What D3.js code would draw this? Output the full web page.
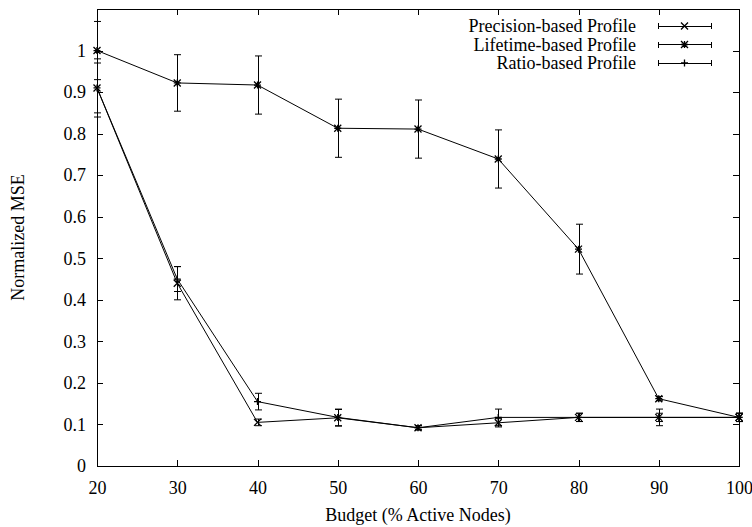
<!DOCTYPE html>
<html>
<head>
<meta charset="utf-8">
<script src="https://cdn.jsdelivr.net/npm/d3@7"></script>
<style>
  body { margin: 0; background: #fff; }
</style>
</head>
<body>
<div class="chart"></div>
<script>
// data
const budgets = [20, 30, 40, 50, 60, 70, 80, 90, 100];
const precision = [0.91, 0.44, 0.105, 0.116, 0.092, 0.104, 0.117, 0.117, 0.117];
const precisionErr = [0.07, 0.04, 0.008, 0.02, 0.005, 0.01, 0.01, 0.02, 0.01];
const lifetime = [1.0, 0.922, 0.917, 0.813, 0.811, 0.739, 0.522, 0.162, 0.117];
const lifetimeErr = [0.07, 0.068, 0.07, 0.07, 0.07, 0.07, 0.06, 0.005, 0.01];
const ratio = [0.91, 0.45, 0.155, 0.117, 0.092, 0.117, 0.117, 0.117, 0.117];
const ratioErr = [0.06, 0.03, 0.02, 0.02, 0.005, 0.02, 0.01, 0.01, 0.01];
const seriesNames = ['Precision-based Profile', 'Lifetime-based Profile', 'Ratio-based Profile'];
const markers = ['cross', 'star', 'plus'];
const yTicks = [0, 0.1, 0.2, 0.3, 0.4, 0.5, 0.6, 0.7, 0.8, 0.9, 1];

const FONT = '"Liberation Serif", "Times New Roman", serif';
const FONT_SIZE = '18px';

// graph dimensions
const width = 752, height = 527;
const margin = { top: 9, right: 13, bottom: 61, left: 97 };
const graphWidth = width - margin.left - margin.right;
const graphHeight = height - margin.top - margin.bottom;

const svg = d3.select('.chart')
  .append('svg')
  .attr('width', width)
  .attr('height', height);

const graph = svg.append('g')
  .attr('transform', `translate(${margin.left}, ${margin.top})`);

// scales
const x = d3.scaleLinear().domain([20, 100]).range([0, graphWidth]);
const y = d3.scaleLinear().domain([0, 1.1]).range([graphHeight, 0]);

// axes (gnuplot style: inward ticks, mirrored on top and right)
const tickLen = 6;
const xAxis = d3.axisBottom(x).tickValues(budgets).tickSize(-tickLen).tickPadding(15).tickFormat(d3.format('d'));
const xAxisTop = d3.axisTop(x).tickValues(budgets).tickSize(-tickLen).tickFormat('');
const yAxis = d3.axisLeft(y).tickValues(yTicks).tickSize(-tickLen).tickPadding(11).tickFormat(d => d === 0 || d === 1 ? d3.format('d')(d) : d3.format('.1f')(d));
const yAxisRight = d3.axisRight(y).tickValues(yTicks).tickSize(-tickLen).tickFormat('');

graph.append('g').attr('transform', `translate(0, ${graphHeight})`).call(xAxis);
graph.append('g').call(xAxisTop);
graph.append('g').call(yAxis);
graph.append('g').attr('transform', `translate(${graphWidth}, 0)`).call(yAxisRight);

graph.selectAll('.domain').remove();
graph.selectAll('.tick line').attr('stroke', '#000').attr('shape-rendering', 'crispEdges');

// border box
graph.append('rect')
  .attr('width', graphWidth)
  .attr('height', graphHeight)
  .attr('fill', 'none')
  .attr('stroke', '#000')
  .attr('shape-rendering', 'crispEdges');

// axis titles
svg.append('text')
  .attr('x', margin.left + graphWidth / 2)
  .attr('y', 521)
  .attr('text-anchor', 'middle')
  .text('Budget (% Active Nodes)');

svg.append('text')
  .attr('transform', `translate(24, ${margin.top + graphHeight / 2}) rotate(-90)`)
  .attr('text-anchor', 'middle')
  .text('Normalized MSE');

// point marker drawing
const ms = 3.5;
const markerPath = (type, cx, cy) => {
  const p = d3.path();
  if (type === 'cross' || type === 'star') {
    p.moveTo(cx - ms, cy - ms); p.lineTo(cx + ms, cy + ms);
    p.moveTo(cx - ms, cy + ms); p.lineTo(cx + ms, cy - ms);
  }
  if (type === 'plus' || type === 'star') {
    p.moveTo(cx - ms, cy); p.lineTo(cx + ms, cy);
    p.moveTo(cx, cy - ms); p.lineTo(cx, cy + ms);
  }
  return p.toString();
};

const line = d3.line()
  .x(d => x(d.b))
  .y(d => y(d.v));

const allSeries = [
  { vals: precision, errs: precisionErr },
  { vals: lifetime, errs: lifetimeErr },
  { vals: ratio, errs: ratioErr }
];

const capW = 3.5;
allSeries.forEach((s, i) => {
  const data = budgets.map((b, j) => ({ b, v: s.vals[j], e: s.errs[j] }));
  const g = graph.append('g').attr('class', 'series-' + i);

  // error bars
  g.selectAll('path.err')
    .data(data)
    .enter()
    .append('path')
    .attr('class', 'err')
    .attr('fill', 'none')
    .attr('stroke', '#000')
    .attr('stroke-width', 1)
    .attr('d', d => {
      const cx = Math.round(x(d.b)) + 0.5;
      const y0 = y(d.v - d.e), y1 = y(d.v + d.e);
      return `M${cx},${y0}L${cx},${y1}M${cx - capW},${y0}L${cx + capW},${y0}M${cx - capW},${y1}L${cx + capW},${y1}`;
    });

  // line
  g.append('path')
    .datum(data)
    .attr('fill', 'none')
    .attr('stroke', '#000')
    .attr('stroke-width', 1)
    .attr('d', line);

  // points
  g.selectAll('path.pt')
    .data(data)
    .enter()
    .append('path')
    .attr('class', 'pt')
    .attr('fill', 'none')
    .attr('stroke', '#000')
    .attr('stroke-width', 1.3)
    .attr('d', d => markerPath(markers[i], x(d.b), y(d.v)));
});

// legend
const legend = svg.append('g');
const legendRows = [26, 44.5, 63];
seriesNames.forEach((name, i) => {
  const ly = legendRows[i];
  legend.append('text')
    .attr('x', 636)
    .attr('y', ly)
    .attr('dy', '0.35em')
    .attr('text-anchor', 'end')
    .text(name);
  legend.append('path')
    .attr('fill', 'none')
    .attr('stroke', '#000')
    .attr('shape-rendering', 'crispEdges')
    .attr('d', `M658,${ly}L711,${ly}M658,${ly - 3}L658,${ly + 3}M711,${ly - 3}L711,${ly + 3}`);
  legend.append('path')
    .attr('fill', 'none')
    .attr('stroke', '#000')
    .attr('stroke-width', 1.3)
    .attr('d', markerPath(markers[i], 684.5, ly));
});

// every text in the same serif face
svg.selectAll('text')
  .style('font-family', FONT)
  .style('font-size', FONT_SIZE)
  .attr('fill', '#000');
</script>
</body>
</html>
